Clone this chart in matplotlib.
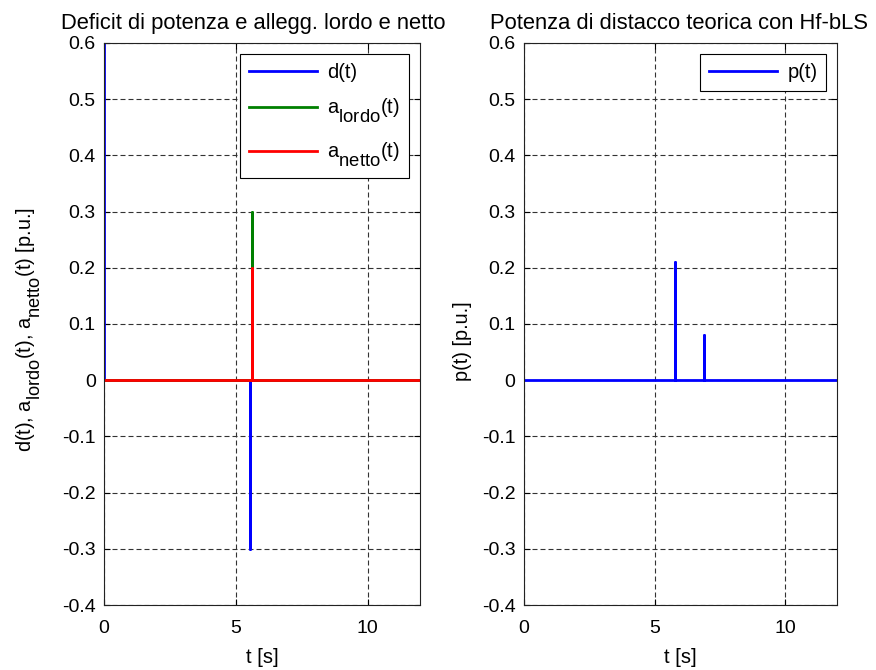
import matplotlib
matplotlib.use("Agg")
import matplotlib.pyplot as plt
import matplotlib._mathtext as _mt

plt.rcParams['font.family'] = ['Liberation Sans', 'DejaVu Sans']
plt.rcParams['mathtext.fontset'] = 'custom'
plt.rcParams['mathtext.rm'] = 'Liberation Sans'
plt.rcParams['mathtext.it'] = 'Liberation Sans'
# subscripts drawn nearly full size and set low, TeX-interpreter style
_mt.SHRINK_FACTOR = 0.92
_mt.FontConstantsBase.sub1 = 0.85
_mt.FontConstantsBase.sub2 = 0.85

# Power deficit d(t) and gross / net load shedding
t_d = [0.0, 0.0, 5.55, 5.55, 5.55, 12.0]
d_vals = [0.8, 0.0, 0.0, -0.3, 0.0, 0.0]

t_a = [0.0, 5.62, 5.62, 5.62, 12.0]
a_lordo = [0.0, 0.0, 0.3, 0.0, 0.0]
a_netto = [0.0, 0.0, 0.2, 0.0, 0.0]

# Theoretical shedding power p(t)
t_p = [0.0, 5.78, 5.78, 5.78, 6.88, 6.88, 6.88, 12.0]
p_vals = [0.0, 0.0, 0.21, 0.0, 0.0, 0.08, 0.0, 0.0]

x_ticks = [0, 5, 10]
y_ticks = [-0.4, -0.3, -0.2, -0.1, 0, 0.1, 0.2, 0.3, 0.4, 0.5, 0.6]
y_ticklabels = ['-0.4', '-0.3', '-0.2', '-0.1', '0', '0.1', '0.2', '0.3', '0.4', '0.5', '0.6']

fig = plt.figure(figsize=(8.76, 6.70), dpi=100)
ax1 = fig.add_axes([0.1187, 0.097, 0.361, 0.839])
ax2 = fig.add_axes([0.598, 0.097, 0.358, 0.839])

FS_TICK = 14
FS_LABEL = 14.5
FS_YLABEL = 14.3
FS_TITLE = 15.8


def style(ax):
    ax.set_xlim(0, 12)
    ax.set_ylim(-0.4, 0.6)
    ax.set_xticks(x_ticks)
    ax.set_yticks(y_ticks)
    ax.set_yticklabels(y_ticklabels)
    ax.tick_params(direction='in', top=True, right=True, length=4,
                   labelsize=FS_TICK, width=0.8, pad=6)
    ax.tick_params(axis='x', pad=10.5)
    ax.grid(True, color='#333333', linestyle=(0, (4.5, 2.7)), linewidth=0.8)
    for s in ax.spines.values():
        s.set_linewidth(0.8)
        s.set_color('#222222')
    ax.set_xlabel('t [s]', fontsize=FS_LABEL, labelpad=8)


def legend(ax, **kw):
    leg = ax.legend(loc='upper right', fontsize=FS_LABEL, fancybox=False,
                    framealpha=1, edgecolor='black', handlelength=3.4,
                    borderaxespad=0.55, handletextpad=0.5, borderpad=0.45, **kw)
    leg.get_frame().set_linewidth(0.8)
    return leg


lw = 2.0
ax1.plot(t_d, d_vals, color='#0000ff', lw=lw, label='d(t)')
ax1.plot(t_a, a_lordo, color='#008000', lw=lw, label=r'a$_{\mathrm{lordo}}$(t)')
ax1.plot(t_a, a_netto, color='#ff0000', lw=lw, label=r'a$_{\mathrm{netto}}$(t)')
style(ax1)
ax1.set_title('Deficit di potenza e allegg. lordo e netto', fontsize=FS_TITLE,
              pad=10, x=0.472)
ax1.set_ylabel(r'd(t), a$_{\mathrm{lordo}}$(t), a$_{\mathrm{netto}}$(t) [p.u.]',
               fontsize=FS_YLABEL)
ax1.yaxis.set_label_coords(-0.193, 0.49)
legend(ax1, labelspacing=0.75)

ax2.plot(t_p, p_vals, color='#0000ff', lw=lw, label='p(t)')
style(ax2)
ax2.set_title('Potenza di distacco teorica con Hf-bLS', fontsize=FS_TITLE,
              pad=10, x=0.495)
ax2.set_ylabel('p(t) [p.u.]', fontsize=FS_YLABEL)
ax2.yaxis.set_label_coords(-0.166, 0.47)
legend(ax2)

fig.savefig('out.png', dpi=100)
